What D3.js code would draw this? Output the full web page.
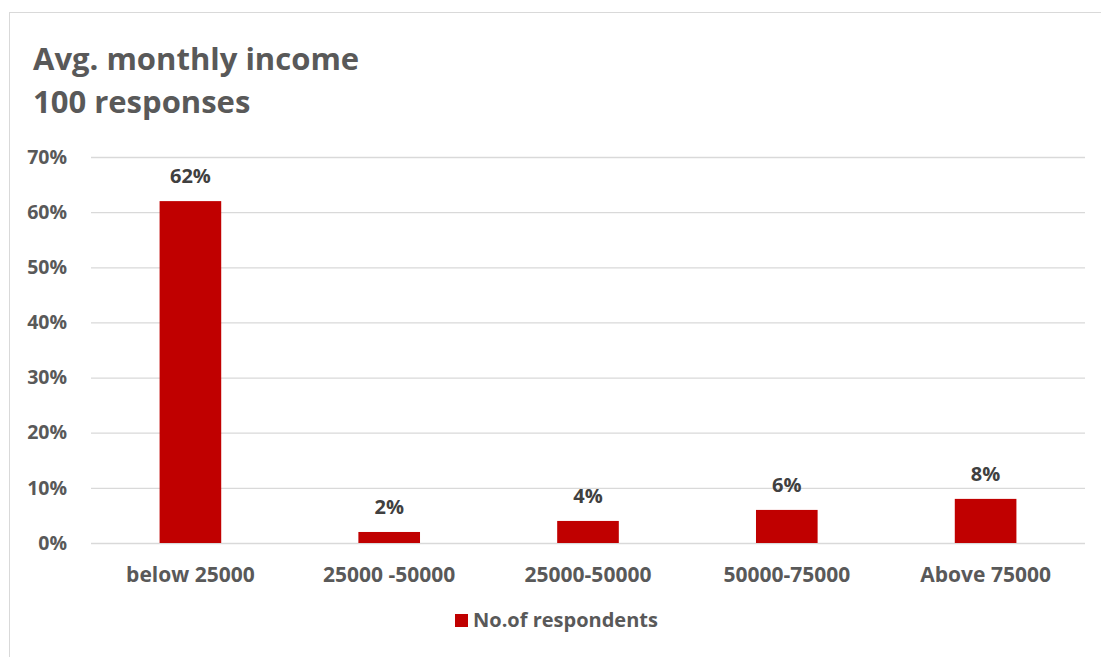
<!DOCTYPE html>
<html>
<head>
<meta charset="utf-8">
<script src="https://cdn.jsdelivr.net/npm/d3@7"></script>
<style>
  html, body { margin: 0; padding: 0; background: #fff; }
  svg { display: block; font-family: "Open Sans", Lato, sans-serif; }
</style>
</head>
<body>
<svg id="chart" width="1101" height="657"></svg>
<script>
// Income bands and share of respondents in each
const categories = ["below 25000", "25000 -50000", "25000-50000", "50000-75000", "Above 75000"];
const shares = [0.62, 0.02, 0.04, 0.06, 0.08];
const yTicks = [0, 0.1, 0.2, 0.3, 0.4, 0.5, 0.6, 0.7];
const titleLines = ["Avg. monthly income", "100 responses"];
const seriesName = "No.of respondents";

const svg = d3.select("#chart");
const W = 1101, H = 657;
const plot = { left: 91, right: 1085, top: 157, bottom: 543 };
const FONT = "'Open Sans', Lato, sans-serif";

// Chart area frame
svg.append("rect")
  .attr("x", 9.5).attr("y", 12.5)
  .attr("width", W + 10).attr("height", H + 10)
  .attr("fill", "#fff").attr("stroke", "#d9d9d9").attr("stroke-width", 1);

// Title
svg.append("g").selectAll("text").data(titleLines).join("text")
  .attr("x", 33).attr("y", (d, i) => 70 + i * 43)
  .attr("font-size", 31).attr("font-weight", 700).attr("fill", "#595959")
  .text(d => d);

const x = d3.scaleBand().domain(categories)
  .range([plot.left, plot.right]).paddingInner(0.69).paddingOuter(0.345);
const y = d3.scaleLinear().domain([0, 0.7]).range([plot.bottom, plot.top]);

// Gridlines and y labels
const yAxis = d3.axisLeft(y).tickValues(yTicks).tickFormat(d3.format(".0%"))
  .tickSize(-(plot.right - plot.left)).tickPadding(24);
const gy = svg.append("g").attr("transform", `translate(${plot.left},0)`).call(yAxis);
gy.select(".domain").remove();
gy.selectAll(".tick line").attr("stroke", "#d9d9d9").attr("stroke-width", 1.3);
gy.selectAll(".tick text")
  .attr("font-size", 19.5).attr("font-weight", 700).attr("fill", "#595959")
  .attr("font-family", FONT);

// Bars
svg.append("g").selectAll("rect").data(categories).join("rect")
  .attr("x", d => x(d))
  .attr("width", x.bandwidth())
  .attr("y", (d, i) => y(shares[i]))
  .attr("height", (d, i) => y(0) - y(shares[i]))
  .attr("fill", "#c00000");

// Value labels
svg.append("g").selectAll("text").data(categories).join("text")
  .attr("x", d => x(d) + x.bandwidth() / 2)
  .attr("y", (d, i) => y(shares[i]) - 18)
  .attr("text-anchor", "middle")
  .attr("font-size", 20).attr("font-weight", 700).attr("fill", "#404040")
  .text((d, i) => d3.format(".0%")(shares[i]));

// Category labels
const xAxis = d3.axisBottom(x).tickSize(0).tickPadding(24);
const gx = svg.append("g").attr("transform", `translate(0,${plot.bottom})`).call(xAxis);
gx.select(".domain").remove();
gx.selectAll(".tick text")
  .attr("font-size", 21).attr("font-weight", 700).attr("fill", "#595959")
  .attr("font-family", FONT);

// Legend
const lg = svg.append("g").attr("transform", "translate(455,614)");
lg.append("rect").attr("width", 13).attr("height", 13).attr("fill", "#c00000");
lg.append("text").attr("x", 18).attr("y", 13)
  .attr("font-size", 20).attr("font-weight", 700).attr("fill", "#595959")
  .text(seriesName);
</script>
</body>
</html>
